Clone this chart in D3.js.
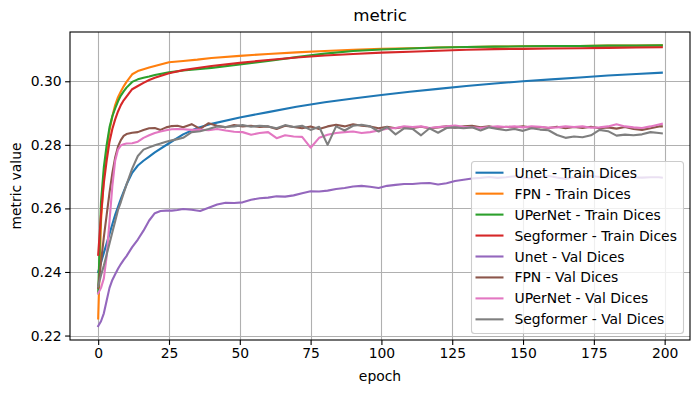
<!DOCTYPE html>
<html>
<head>
<meta charset="utf-8">
<script src="https://cdn.jsdelivr.net/npm/d3@7"></script>
<style>
  html, body { margin: 0; padding: 0; background: #fff; }
  svg { display: block; font-family: "DejaVu Sans", sans-serif; }
</style>
</head>
<body>
<svg id="chart" width="700" height="393"></svg>
<script>
// ---- data ----
const chartTitle = "metric";
const xLabel = "epoch";
const yLabel = "metric value";
const xTicks = [0, 25, 50, 75, 100, 125, 150, 175, 200];
const yTicks = [0.22, 0.24, 0.26, 0.28, 0.30];

const seriesNames = [
  "Unet - Train Dices", "FPN - Train Dices", "UPerNet - Train Dices", "Segformer - Train Dices",
  "Unet - Val Dices", "FPN - Val Dices", "UPerNet - Val Dices", "Segformer - Val Dices"
];
const seriesColors = ["#1f77b4", "#ff7f0e", "#2ca02c", "#d62728", "#9467bd", "#8c564b", "#e377c2", "#7f7f7f"];

const trainEpochs = [0,1,2,3,4,5,6,7,8,9,10,12,14,16,18,20,25,30,35,40,50,60,70,80,90,100,110,120,130,140,150,160,170,180,190,199];
const unetTrain = [0.2400,0.2430,0.2460,0.2490,0.2520,0.2550,0.2580,0.2605,0.2630,0.2653,0.2675,0.2712,0.2735,0.2750,0.2763,0.2776,0.2805,0.2833,0.2853,0.2866,0.2886,0.2903,0.2920,0.2934,0.2946,0.2957,0.2967,0.2976,0.2985,0.2993,0.3000,0.3006,0.3012,0.3018,0.3023,0.3027];
const fpnTrain = [0.2254,0.2560,0.2700,0.2780,0.2845,0.2890,0.2925,0.2950,0.2968,0.2984,0.2998,0.3022,0.3032,0.3038,0.3043,0.3048,0.3060,0.3064,0.3068,0.3073,0.3080,0.3086,0.3091,0.3095,0.3099,0.3102,0.3104,0.3106,0.3108,0.3109,0.3110,0.3110,0.3111,0.3112,0.3112,0.3113];
const upernetTrain = [0.2333,0.2620,0.2730,0.2800,0.2855,0.2890,0.2915,0.2937,0.2955,0.2968,0.2980,0.2998,0.3006,0.3011,0.3015,0.3020,0.3028,0.3034,0.3038,0.3042,0.3053,0.3064,0.3076,0.3087,0.3095,0.3100,0.3103,0.3106,0.3108,0.3109,0.3110,0.3111,0.3111,0.3112,0.3112,0.3113];
const segformerTrain = [0.2454,0.2580,0.2680,0.2750,0.2810,0.2850,0.2880,0.2905,0.2925,0.2940,0.2952,0.2975,0.2985,0.2995,0.3004,0.3011,0.3025,0.3035,0.3042,0.3048,0.3058,0.3067,0.3075,0.3081,0.3086,0.3090,0.3093,0.3096,0.3099,0.3101,0.3102,0.3103,0.3104,0.3105,0.3106,0.3107];

const valEpochs = [0,1,2,3,4,5,6,7,8,9,10,12,14,16,18,20,22,24,26,28,30,33,36,39,42,45,48,51,54,57,60,63,66,69,72,75,78,81,84,87,90,93,96,99,102,105,108,111,114,117,120,123,126,129,132,135,138,141,144,147,150,153,156,159,162,165,168,171,174,177,180,183,186,189,192,195,198,199];
const unetVal = [0.2230,0.2245,0.2270,0.2310,0.2350,0.2375,0.2393,0.2410,0.2425,0.2438,0.2450,0.2478,0.2502,0.2530,0.2562,0.2585,0.2592,0.2593,0.2593,0.2595,0.2598,0.2596,0.2592,0.2602,0.2612,0.2618,0.2617,0.2619,0.2627,0.2632,0.2634,0.2638,0.2637,0.2641,0.2648,0.2654,0.2653,0.2656,0.2661,0.2664,0.2669,0.2671,0.2668,0.2664,0.2671,0.2674,0.2677,0.2677,0.2679,0.2680,0.2675,0.2679,0.2686,0.2690,0.2694,0.2696,0.2699,0.2696,0.2698,0.2701,0.2697,0.2694,0.2699,0.2702,0.2697,0.2693,0.2698,0.2701,0.2702,0.2699,0.2697,0.2699,0.2701,0.2698,0.2697,0.2698,0.2698,0.2697];
const fpnVal = [0.2350,0.2430,0.2510,0.2580,0.2650,0.2711,0.2760,0.2795,0.2815,0.2828,0.2834,0.2838,0.2840,0.2847,0.2852,0.2853,0.2847,0.2855,0.2859,0.2860,0.2855,0.2865,0.2850,0.2868,0.2860,0.2855,0.2862,0.2858,0.2860,0.2856,0.2858,0.2850,0.2860,0.2856,0.2852,0.2858,0.2850,0.2858,0.2863,0.2858,0.2865,0.2860,0.2858,0.2852,0.2857,0.2852,0.2856,0.2853,0.2857,0.2852,0.2855,0.2858,0.2854,0.2858,0.2860,0.2855,0.2858,0.2853,0.2857,0.2855,0.2858,0.2854,0.2856,0.2853,0.2857,0.2852,0.2856,0.2853,0.2857,0.2852,0.2855,0.2851,0.2856,0.2850,0.2847,0.2852,0.2858,0.2858];
const upernetVal = [0.2333,0.2350,0.2380,0.2450,0.2560,0.2670,0.2750,0.2785,0.2798,0.2802,0.2804,0.2805,0.2810,0.2822,0.2830,0.2837,0.2842,0.2846,0.2849,0.2850,0.2849,0.2847,0.2848,0.2846,0.2850,0.2845,0.2841,0.2840,0.2832,0.2837,0.2840,0.2821,0.2830,0.2826,0.2825,0.2791,0.2822,0.2832,0.2837,0.2840,0.2842,0.2837,0.2840,0.2845,0.2851,0.2853,0.2858,0.2856,0.2858,0.2853,0.2856,0.2858,0.2861,0.2857,0.2855,0.2853,0.2856,0.2858,0.2856,0.2858,0.2855,0.2858,0.2857,0.2854,0.2855,0.2858,0.2856,0.2858,0.2854,0.2855,0.2858,0.2865,0.2858,0.2855,0.2853,0.2858,0.2864,0.2866];
const segformerVal = [0.2354,0.2390,0.2420,0.2455,0.2490,0.2525,0.2560,0.2595,0.2620,0.2648,0.2675,0.2725,0.2765,0.2785,0.2792,0.2799,0.2804,0.2810,0.2814,0.2818,0.2822,0.2840,0.2843,0.2850,0.2858,0.2856,0.2858,0.2862,0.2857,0.2860,0.2858,0.2852,0.2862,0.2856,0.2860,0.2847,0.2857,0.2800,0.2858,0.2845,0.2860,0.2863,0.2858,0.2842,0.2856,0.2833,0.2852,0.2850,0.2830,0.2852,0.2838,0.2853,0.2855,0.2852,0.2855,0.2845,0.2855,0.2850,0.2846,0.2850,0.2844,0.2852,0.2848,0.2846,0.2831,0.2822,0.2826,0.2824,0.2830,0.2847,0.2843,0.2829,0.2832,0.2830,0.2833,0.2840,0.2837,0.2836];

const seriesEpochs = [trainEpochs, trainEpochs, trainEpochs, trainEpochs, valEpochs, valEpochs, valEpochs, valEpochs];
const seriesValues = [unetTrain, fpnTrain, upernetTrain, segformerTrain, unetVal, fpnVal, upernetVal, segformerVal];

// ---- layout ----
const svg = d3.select("#chart");
const mLeft = 70, mRight = 690, mTop = 32, mBottom = 340;

const x = d3.scaleLinear().domain([-9.95, 208.95]).range([mLeft, mRight]);
const y = d3.scaleLinear().domain([0.2186, 0.3155]).range([mBottom, mTop]);

// grid
const grid = svg.append("g");
grid.selectAll("line.gx").data(xTicks).enter().append("line")
  .attr("x1", d => Math.round(x(d)) + 0.5).attr("x2", d => Math.round(x(d)) + 0.5)
  .attr("y1", mTop).attr("y2", mBottom)
  .attr("stroke", "#b0b0b0").attr("stroke-width", 1.1);
grid.selectAll("line.gy").data(yTicks).enter().append("line")
  .attr("y1", d => Math.round(y(d)) + 0.5).attr("y2", d => Math.round(y(d)) + 0.5)
  .attr("x1", mLeft).attr("x2", mRight)
  .attr("stroke", "#b0b0b0").attr("stroke-width", 1.1);

// lines
svg.append("clipPath").attr("id", "clip").append("rect")
  .attr("x", mLeft).attr("y", mTop).attr("width", mRight - mLeft).attr("height", mBottom - mTop);
const lineGen = d3.line().x(d => x(d[0])).y(d => y(d[1]));
const lines = svg.append("g").attr("clip-path", "url(#clip)");
seriesValues.forEach((vals, i) => {
  const pts = vals.map((v, j) => [seriesEpochs[i][j], v]);
  lines.append("path").datum(pts)
    .attr("d", lineGen)
    .attr("fill", "none")
    .attr("stroke", seriesColors[i])
    .attr("stroke-width", 2.1)
    .attr("stroke-linejoin", "round")
    .attr("stroke-linecap", "square");
});

// axes
const xAxis = d3.axisBottom(x).tickValues(xTicks).tickSize(4.9).tickPadding(3.5).tickFormat(d3.format("d"));
const yAxis = d3.axisLeft(y).tickValues(yTicks).tickSize(4.9).tickPadding(3.5).tickFormat(d3.format(".2f"));
const gx = svg.append("g").attr("transform", `translate(0,${mBottom})`).call(xAxis);
const gy = svg.append("g").attr("transform", `translate(${mLeft},0)`).call(yAxis);
[gx, gy].forEach(g => {
  g.select(".domain").remove();
  g.selectAll(".tick line").attr("stroke", "#000").attr("stroke-width", 1.1);
  g.selectAll(".tick text").attr("fill", "#000").style("font-size", "13.9px").style("font-family", "DejaVu Sans");
});

// spines
svg.append("rect").attr("x", mLeft).attr("y", mTop).attr("width", mRight - mLeft).attr("height", mBottom - mTop)
  .attr("fill", "none").attr("stroke", "#000").attr("stroke-width", 1.1);

// titles
svg.append("text").attr("x", (mLeft + mRight) / 2).attr("y", 21).attr("text-anchor", "middle")
  .style("font-size", "16.7px").text(chartTitle);
svg.append("text").attr("x", (mLeft + mRight) / 2).attr("y", 381).attr("text-anchor", "middle")
  .style("font-size", "13.9px").text(xLabel);
svg.append("text").attr("transform", `translate(21,${(mTop + mBottom) / 2}) rotate(-90)`)
  .attr("text-anchor", "middle").style("font-size", "13.9px").text(yLabel);

// legend
const lg = svg.append("g");
lg.append("rect").attr("x", 471.5).attr("y", 161.5).attr("width", 212).attr("height", 172)
  .attr("rx", 3).attr("fill", "#fff").attr("fill-opacity", 0.8)
  .attr("stroke", "#cccccc").attr("stroke-width", 1.1);
seriesNames.forEach((name, i) => {
  const cy = 172.7 + i * 20.95;
  lg.append("line").attr("x1", 475.5).attr("x2", 503.5).attr("y1", cy).attr("y2", cy)
    .attr("stroke", seriesColors[i]).attr("stroke-width", 2.1);
  lg.append("text").attr("x", 514.5).attr("y", cy).attr("dy", "0.36em")
    .style("font-size", "13.9px").text(name);
});
</script>
</body>
</html>
